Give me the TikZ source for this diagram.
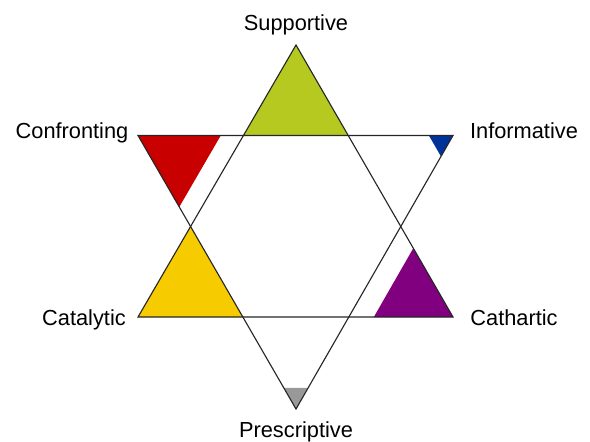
\documentclass[tikz,border=0pt]{standalone}
\usepackage{fontspec}
\setmainfont{Liberation Sans}
\usetikzlibrary{calc}
\definecolor{supgreen}{RGB}{181,201,33}
\definecolor{conred}{RGB}{200,0,0}
\definecolor{infblue}{RGB}{0,51,153}
\definecolor{catyellow}{RGB}{246,204,0}
\definecolor{cathpurple}{RGB}{128,0,128}
\definecolor{pregray}{RGB}{153,153,153}
\tikzset{
  lbl/.style={font=\fontsize{15.5}{18}\selectfont, inner sep=0pt, anchor=base},
  edge/.style={line width=0.8pt, draw=black!85}
}
\begin{document}
\begin{tikzpicture}[x=0.025cm, y=-0.025cm]
  \useasboundingbox (0,0) rectangle (590,441);
  % 두 삼각형 꼭짓점
  \coordinate (A) at (296,45); \coordinate (B) at (138,317); \coordinate (C) at (453,317);
  \coordinate (D) at (138,135.5); \coordinate (E) at (453,135.5); \coordinate (F) at (296,409);
  % 교점
  \coordinate (P1) at (intersection of A--B and D--E);
  \coordinate (P2) at (intersection of A--C and D--E);
  \coordinate (L) at (intersection of A--B and D--F);
  \coordinate (R) at (intersection of A--C and E--F);
  \coordinate (Q1) at (intersection of B--C and D--F);
  \coordinate (Q2) at (intersection of B--C and E--F);
  % 색칠
  \fill[supgreen] (A) -- (P1) -- (P2) -- cycle;
  \fill[conred] (D) -- ($(D)!0.785!(P1)$) -- ($(D)!0.785!(L)$) -- cycle;
  \fill[infblue] (E) -- ($(E)!0.23!(P2)$) -- ($(E)!0.23!(R)$) -- cycle;
  \fill[catyellow] (B) -- (L) -- (Q1) -- cycle;
  \fill[cathpurple] (C) -- ($(C)!0.76!(R)$) -- ($(C)!0.76!(Q2)$) -- cycle;
  \fill[pregray] (F) -- ($(F)!0.23!(Q1)$) -- ($(F)!0.23!(Q2)$) -- cycle;
  % 테두리
  \draw[edge] (A) -- (B) -- (C) -- cycle;
  \draw[edge] (D) -- (E) -- (F) -- cycle;
  % 이름
  \node[lbl] (sup) at (296,30) {Supportive};
  \node[lbl] (con) at (72,138) {Confronting};
  \node[lbl] (inf) at (524,138) {Informative};
  \node[lbl] (cat) at (84,325) {Catalytic};
  \node[lbl] (cath) at (514,325) {Cathartic};
  \node[lbl] (pre) at (296,437) {Prescriptive};
\end{tikzpicture}
\end{document}
